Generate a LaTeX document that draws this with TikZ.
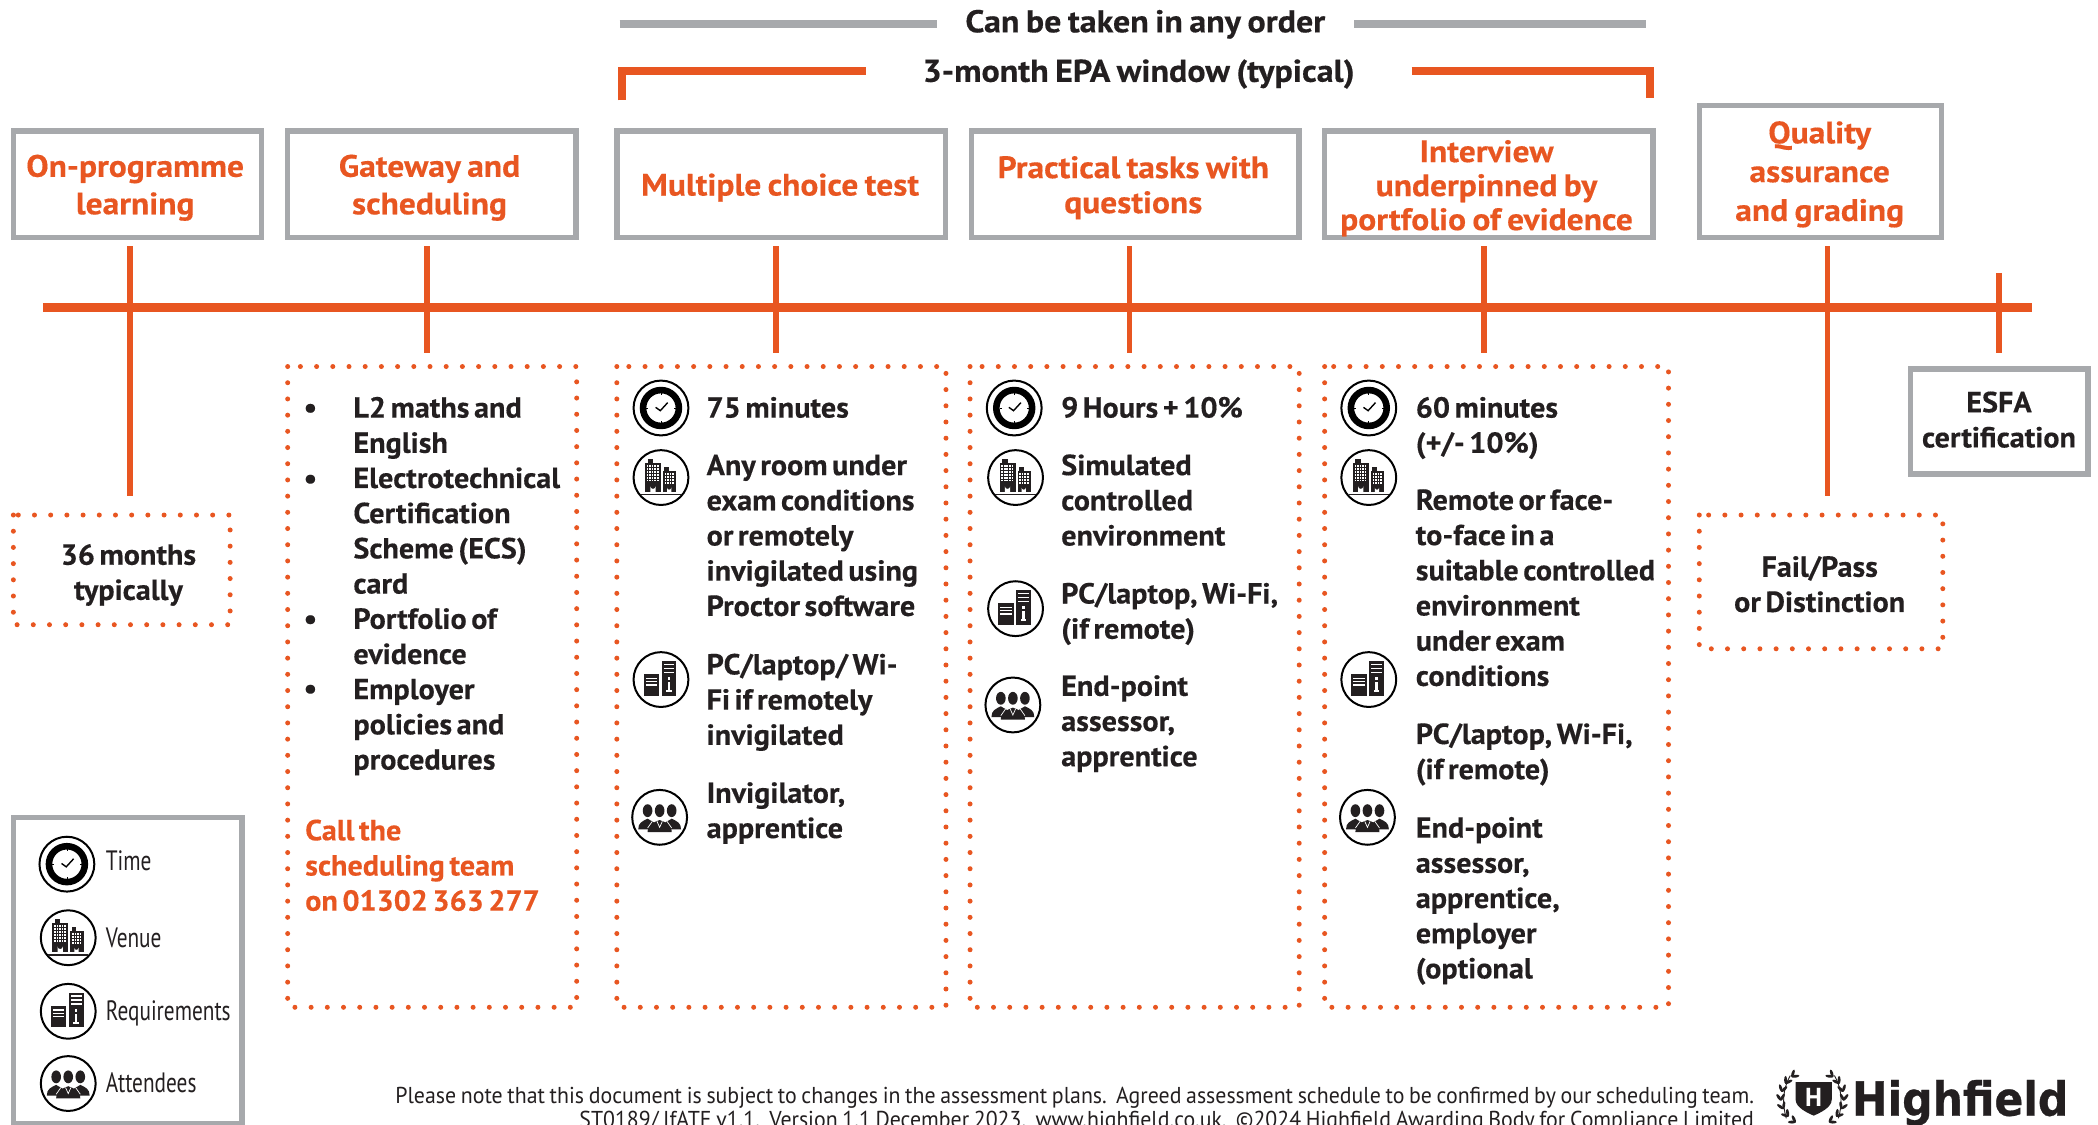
\documentclass[tikz,border=0pt]{standalone}
\usepackage{fontspec}
\setmainfont{PT Sans}
\newfontfamily\bodyfam[FakeStretch=1.04,WordSpace=0.6,BoldFeatures={FakeBold=0.35}]{PT Sans}
\newfontfamily\ttlfam[FakeStretch=1.08,WordSpace=0.75,BoldFeatures={FakeBold=0.35}]{PT Sans}
\newfontfamily\legfam[FakeStretch=0.76]{PT Sans}
\newfontfamily\footfam[FakeStretch=0.95,WordSpace=0.8]{PT Sans}
\newfontfamily\logofam[FakeStretch=0.905,BoldFeatures={FakeBold=0.6}]{DejaVu Sans}
\definecolor{hor}{HTML}{E85621}
\definecolor{hgr}{HTML}{A7A9AC}
\definecolor{htx}{HTML}{231F20}
\tikzset{
  x=1.33801pt,y=-1.33769pt,
  frame/.style={draw=hgr,line width=5.5pt,fill=white,inner sep=0pt,rectangle},
  dotbox/.style={draw=hor,line width=5pt,line cap=round,dash pattern=on 0pt off 16.2pt},
  rail/.style={draw=hor,line width=9pt},
  stem/.style={draw=hor,line width=5.5pt},
  greyrule/.style={draw=hgr,line width=7.5pt},
  bracket/.style={draw=hor,line width=7.5pt,miter limit=10},
  body/.style={inner sep=0pt,anchor=north west,align=left,text=htx,yshift=24pt,font=\bodyfam\bfseries\fontsize{29}{35.2}\selectfont},
  bodyc/.style={body,anchor=north,align=center},
  top/.style={bodyc,font=\ttlfam\bfseries\fontsize{31.5}{35}\selectfont},
  ttl/.style={inner sep=0pt,anchor=north,align=center,text=hor,yshift=24pt,font=\ttlfam\bfseries\fontsize{31}{#1}\selectfont},
  ttl/.default=37.5,
  callout/.style={body,text=hor},
  leg/.style={inner sep=0pt,anchor=base west,text=htx,font=\legfam\fontsize{28}{32}\selectfont},
  foot/.style={inner sep=0pt,anchor=base east,text=htx,font=\footfam\fontsize{23}{26}\selectfont},
  ring/.style={draw=black,line width=2pt,fill=white},
  clockicon/.pic={
    \draw[ring] (0,0) circle (20.5);
    \draw[black,line width=6.6pt] (0,0) circle (13.4);
    \foreach \a in {0,90,180,270}{\draw[black,line width=.8pt] (\a:11) -- (\a:9.5);}
    \draw[black,line width=1.4pt] (-4,-.5) -- (-.5,2) -- (5,-4);
  },
  venueicon/.pic={
    \draw[ring] (0,0) circle (20.5);
    \fill[htx] (-12,-11) rectangle (0,11);
    \fill[htx] (-10,-14) rectangle (-6,-11);
    \fill[htx] (1.5,-5) rectangle (11.5,11);
    \fill[htx] (2.5,-8) rectangle (6,-5);
    \foreach \i in {0,...,4}{\foreach \j in {0,...,5}{
      \fill[white] ({-10.6+\i*1.9},{-9.5+\j*2.2}) rectangle +(1.2,1.4);}}
    \foreach \i in {0,...,3}{\foreach \j in {0,...,3}{
      \fill[white] ({2.8+\i*1.9},{-3.4+\j*2.2}) rectangle +(1.2,1.4);}}
    \fill[white] (-8,11) -- (-8,6.5) arc[start angle=180,end angle=0,radius=2] -- (-4,11) -- cycle;
    \fill[white] (4.5,11) -- (4.5,7.5) arc[start angle=180,end angle=0,radius=1.6] -- (7.7,11) -- cycle;
    \draw[htx,line width=1.6pt] (-15,12.8) -- (15,12.8);
  },
  reqicon/.pic={
    \draw[ring] (0,0) circle (20.5);
    \fill[htx] (-13,-4) rectangle (-1.5,12);
    \fill[htx] (0.5,-14) rectangle (11.5,12);
    \foreach \yy in {-1.5,1,3.5}{\fill[white] (-11.5,\yy) rectangle (-3,\yy+1.1);}
    \foreach \yy in {-12,-9,-6}{\fill[white] (2,\yy) rectangle (10,\yy+1.3);}
    \fill[white] (5,-1.8) rectangle (6.8,.2);
    \fill[white] (5,1.8) rectangle (6.8,8.5);
    \fill[white] (3.9,8) rectangle (7.9,9.3);
  },
  attendicon/.pic={
    \draw[ring] (0,0) circle (20.5);
    \foreach \xx in {-9,0,9}{\fill[htx] (\xx,-5) ellipse (3.6 and 4.8);}
    \fill[htx] (-16,9) .. controls (-16,4) and (-13,3) .. (-9,1) .. controls (-6,3) and (-5,3) .. (-4,4) -- (-4,9) -- cycle;
    \fill[htx] (16,9) .. controls (16,4) and (13,3) .. (9,1) .. controls (6,3) and (5,3) .. (4,4) -- (4,9) -- cycle;
    \fill[htx] (-9,11) .. controls (-9,5) and (-5,4) .. (0,2) .. controls (5,4) and (9,5) .. (9,11) -- cycle;
    \draw[white,line width=.7pt] (-2,3) -- (0,7.5) -- (2,3);
    \draw[white,line width=.7pt] (-5.5,3) -- (-9,8);
    \draw[white,line width=.7pt] (5.5,3) -- (9,8);
  },
}
\newcommand{\tl}[4][body]{\node[#1] (#2) at (#3) {\rule{0pt}{24pt}#4};}
\begin{document}
\begin{tikzpicture}
\useasboundingbox (0,0) rectangle (1568,841);
% top rules
\coordinate (ga) at (463,18); \coordinate (gb) at (700,18);
\coordinate (gc) at (1012,18); \coordinate (gd) at (1230,18);
\draw[greyrule] (ga) -- (gb);
\draw[greyrule] (gc) -- (gd);
\coordinate (oa) at (465,75); \coordinate (ob) at (465,53); \coordinate (oc) at (647,53);
\coordinate (od) at (1055,53); \coordinate (oe) at (1233,53); \coordinate (of) at (1233,73);
\draw[bracket] (oa) -- (ob) -- (oc);
\draw[bracket] (od) -- (oe) -- (of);
\tl[top]{anyorder}{856,24}{Can be taken in any order}
\tl[top]{window}{851,61}{3-month EPA window (typical)}
% timeline
\coordinate (ra) at (32,229.5); \coordinate (rb) at (1519,229.5);
\draw[rail] (ra) -- (rb);
\foreach \nm/\xx/\ya/\yb in {s1/97/184/371,s2/319/184/264,s3/580/184/264,s4/844/184/264,s5/1109/184/264,s6/1366/184/371,s7/1494/204/264}{
  \coordinate (\nm a) at (\xx,\ya); \coordinate (\nm b) at (\xx,\yb);
  \draw[stem] (\nm a) -- (\nm b);
}
% grey frames
\foreach \nm/\xa/\ya/\xb/\yb in {f1/10/98/195.5/177.5,f2/215/98/430.5/177.5,f3/461/98/706.5/177.5,f4/726/98/971/177.5,f5/990/98/1235.5/177.5,f6/1270/79/1451/177.5,f7/1428/276/1560.5/354.5,f8/10/611/181/840}{
  \node[frame,minimum width={(\xb-\xa)*1.33801pt},minimum height={(\yb-\ya)*1.33769pt}] (\nm) at ({(\xa+\xb)/2},{(\ya+\yb)/2}) {};
}
% dotted frames
\foreach \nm/\xa/\ya/\xb/\yb in {d1/10/385/172/467,d2/215/274/431/753,d3/461/274/707/753,d4/725/274/971/753,d5/990/274/1247/753,d6/1270/385/1452/485}{
  \coordinate (\nm nw) at (\xa,\ya); \coordinate (\nm se) at (\xb,\yb);
  \draw[dotbox] (\nm nw) rectangle (\nm se);
}
% titles
\tl[ttl]{t1}{101,132}{On-programme\\learning}
\tl[ttl]{t2}{321,132}{Gateway and\\scheduling}
\tl[ttl]{t3}{583,146}{Multiple choice test}
\tl[ttl=35]{t4}{847,133}{Practical tasks with\\questions}
\tl[ttl=34]{t5}{1111,121}{Interview\\underpinned by\\portfolio of evidence}
\tl[ttl=38.8]{t6}{1360,107}{Quality\\assurance\\and grading}
\tl[bodyc]{t7}{1494,308}{ESFA\\certification}
% short boxes
\tl[bodyc]{b1}{96,422}{36 months\\typically}
\tl[bodyc]{b6}{1360,431}{Fail/Pass\\or Distinction}
% gateway column
\foreach \nm/\yy in {p1/312,p2/365,p3/470,p4/522}{\node[body,anchor=base,yshift=-24pt] (\nm) at (232,\yy) {•};}
\tl{g1}{264,312}{L2 maths and\\English\\Electrotechnical\\Certification\\Scheme (ECS)\\card\\Portfolio of\\evidence\\Employer\\policies and\\procedures}
\tl[callout]{g2}{228,628}{Call the\\scheduling team\\on 01302 363 277}
% column 3
\tl{c3a}{528,312}{75 minutes}
\tl{c3b}{528,355}{Any room under\\exam conditions\\or remotely\\invigilated using\\Proctor software}
\tl{c3c}{528,504}{PC/laptop/ Wi-\\Fi if remotely\\invigilated}
\tl{c3d}{528,600}{Invigilator,\\apprentice}
% column 4
\tl{c4a}{793,312}{9 Hours + 10\%}
\tl{c4b}{793,355}{Simulated\\controlled\\environment}
\tl{c4c}{793,451}{PC/laptop, Wi-Fi,\\(if remote)}
\tl{c4d}{793,520}{End-point\\assessor,\\apprentice}
% column 5
\tl{c5a}{1058,312}{60 minutes\\(+/- 10\%)}
\tl{c5b}{1058,381}{Remote or face-\\to-face in a\\suitable controlled\\environment\\under exam\\conditions}
\tl{c5c}{1058,556}{PC/laptop, Wi-Fi,\\(if remote)}
\tl{c5d}{1058,626}{End-point\\assessor,\\apprentice,\\employer\\(optional}
% icons
\pic at (494,305) {clockicon};
\pic at (494,357) {venueicon};
\pic at (494,508) {reqicon};
\pic at (493,611) {attendicon};
\pic at (758,305) {clockicon};
\pic at (759,357) {venueicon};
\pic at (759,455) {reqicon};
\pic at (757,527) {attendicon};
\pic at (1023,305) {clockicon};
\pic at (1023,357) {venueicon};
\pic at (1023,508) {reqicon};
\pic at (1022,611) {attendicon};
% legend
\pic at (50,646) {clockicon};
\pic at (51,701) {venueicon};
\pic at (51,756) {reqicon};
\pic at (51,810) {attendicon};
\node[leg] (l1) at (79,651) {Time};
\node[leg] (l2) at (79,708) {Venue};
\node[leg] (l3) at (79,763) {Requirements};
\node[leg] (l4) at (79,817) {Attendees};
% footer
\node[foot] (n1) at (1311,825) {Please note that this document is subject to changes in the assessment plans.\ \ Agreed assessment schedule to be confirmed by our scheduling team.};
\node[foot] (n2) at (1311,843) {ST0189/ IfATE v1.1.\ \ Version 1.1 December 2023.\ \ www.highfield.co.uk.\ \ ©2024 Highfield Awarding Body for Compliance Limited};
% logo: laurel
\foreach \t in {-50,-32,-14,4,22,40,58}{
  \fill[htx,shift={({1354-23*cos(\t)},{821+21*sin(\t)})},rotate={\t+58}] (2.6,0) ellipse (3 and 1.1);
  \fill[htx,shift={({1354-23*cos(\t)},{821+21*sin(\t)})},rotate={\t+122}] (2.6,0) ellipse (3 and 1.1);
  \fill[htx,shift={({1355+23*cos(\t)},{821+21*sin(\t)})},rotate={-\t-58}] (-2.6,0) ellipse (3 and 1.1);
  \fill[htx,shift={({1355+23*cos(\t)},{821+21*sin(\t)})},rotate={-\t-122}] (-2.6,0) ellipse (3 and 1.1);
}
\draw[htx,line width=.9pt] (1335,836) .. controls (1332,825) and (1332,815) .. (1338,804);
\draw[htx,line width=.9pt] (1374,836) .. controls (1377,825) and (1377,815) .. (1371,804);
\fill[htx] (1342,809) -- (1369,809) -- (1369,822) .. controls (1369,828) and (1360,832) .. (1355.5,834) .. controls (1351,832) and (1342,828) .. (1342,822) -- cycle;
\node[inner sep=0pt,text=white,font=\rmfamily\bfseries\fontsize{26}{26}\selectfont] (lh) at (1355.5,820.5) {H};
\node[inner sep=0pt,anchor=base west,text=htx,font=\logofam\bfseries\fontsize{47}{47}\selectfont] (logo) at (1384,834) {Highfield};
\end{tikzpicture}
\end{document}
